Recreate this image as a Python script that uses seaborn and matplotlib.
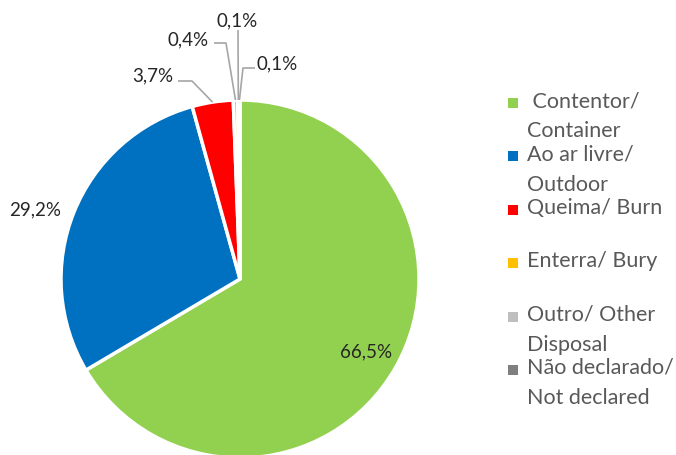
import numpy as np
import matplotlib.pyplot as plt
import seaborn as sns

# data
categories = [" Contentor/\nContainer", "Ao ar livre/\nOutdoor", "Queima/ Burn",
              "Enterra/ Bury", "Outro/ Other\nDisposal", "Não declarado/\nNot declared"]
values = [66.5, 29.2, 3.7, 0.4, 0.1, 0.1]
pct_labels = ["66,5%", "29,2%", "3,7%", "0,4%", "0,1%", "0,1%"]
colors = ["#92D050", "#0070C0", "#FF0000", "#FFC000", "#BFBFBF", "#7F7F7F"]

sns.set_theme(style="white")
plt.rcParams['font.family'] = ['Lato', 'DejaVu Sans']

W, H = 676, 455
fig = plt.figure(figsize=(W / 100, H / 100), dpi=100)
ax = fig.add_axes([0, 0, 1, 1])

# pie in pixel units (y measured from top, flipped here)
cx, cy, r = 240, H - 279, 179
wedges, _ = ax.pie(values, colors=colors, startangle=90, counterclock=False,
                   center=(cx, cy), radius=r,
                   wedgeprops=dict(edgecolor="white", linewidth=2.5))
ax.set_xlim(0, W)
ax.set_ylim(0, H)
ax.set_axis_off()

# percent labels (positions in px from top-left)
label_pos = [(366, 352), (35, 210), (153, 76), (188, 40), (237, 21), (277, 64)]
line_ends = [None, None, (178, 81), (214, 43), (238, 30), (255, 68)]
elbows = [None, None, (192, 81), (226, 43), None, (243, 68)]

for i, w in enumerate(wedges):
    x, y = label_pos[i]
    ax.text(x, H - y, pct_labels[i], ha="center", va="center",
            fontsize=13.5, color="#262626")
    if line_ends[i] is not None:
        mid = np.deg2rad((w.theta1 + w.theta2) / 2)
        ax_x = cx + r * np.cos(mid)
        ax_y = cy + r * np.sin(mid)
        pts = [line_ends[i]]
        if elbows[i] is not None:
            pts.append(elbows[i])
        xs = [p[0] for p in pts] + [ax_x]
        ys = [H - p[1] for p in pts] + [ax_y]
        ax.plot(xs, ys, color="#A6A6A6", lw=1.2, solid_capstyle="butt")

# legend
leg_y0, leg_dy = 103, 53.4
for i, lab in enumerate(categories):
    y = leg_y0 + i * leg_dy
    ax.scatter([513], [H - y], marker="s", s=48, color=colors[i], linewidths=0)
    ax.text(527, H - y + 12, lab, ha="left", va="top", fontsize=15.5,
            color="#595959", linespacing=1.65)

fig.savefig("out.png", dpi=100)
